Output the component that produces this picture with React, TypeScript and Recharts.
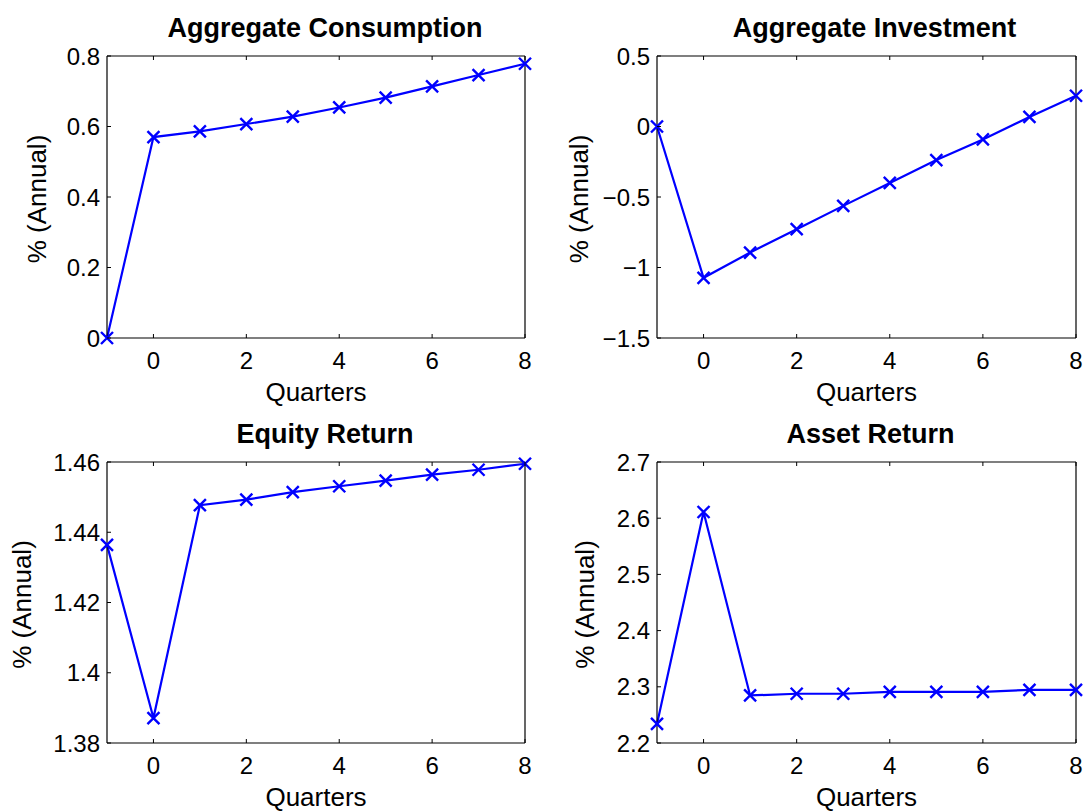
import React from 'react';
import { LineChart, Line, XAxis, YAxis } from 'recharts';

const W = 1084;
const H = 812;
const FONT = '"Liberation Sans", Arial, Helvetica, sans-serif';
const BLUE = '#0000ff';

// ---- data ----
const quarters = [-1, 0, 1, 2, 3, 4, 5, 6, 7, 8];
const consumption = [0, 0.57, 0.586, 0.607, 0.628, 0.654, 0.682, 0.714, 0.746, 0.778];
const investment = [0, -1.073, -0.894, -0.728, -0.563, -0.4, -0.238, -0.092, 0.068, 0.218];
const equityReturn = [1.4364, 1.3871, 1.4477, 1.4493, 1.4514, 1.4531, 1.4547, 1.4564, 1.4578, 1.4595];
const assetReturn = [2.234, 2.611, 2.2846, 2.2876, 2.2876, 2.291, 2.291, 2.291, 2.2947, 2.2947];

const xTicks = [0, 2, 4, 6, 8];
const consumptionTicks = [0, 0.2, 0.4, 0.6, 0.8];
const investmentTicks = [-1.5, -1, -0.5, 0, 0.5];
const equityTicks = [1.38, 1.4, 1.42, 1.44, 1.46];
const assetTicks = [2.2, 2.3, 2.4, 2.5, 2.6, 2.7];

const xLabel = 'Quarters';
const yLabel = '% (Annual)';

// ---- helpers ----
const TICK_LEN = 4;
const AX = 1; // axis band size
const fmt = (v: number) => String(Number(v.toFixed(4))).replace('-', '\u2212');

const BottomTick = (p: any) => (
  <g>
    <line x1={p.x} x2={p.x} y1={p.y} y2={p.y - TICK_LEN} stroke="#000" strokeWidth={1} />
    <text x={p.x} y={p.y + 31} textAnchor="middle" fontSize={24} fontFamily={FONT} fill="#000">
      {fmt(p.payload.value)}
    </text>
  </g>
);
const TopTick = (p: any) => (
  <line x1={p.x} x2={p.x} y1={p.y} y2={p.y + TICK_LEN} stroke="#000" strokeWidth={1} />
);
const LeftTick = (p: any) => (
  <g>
    <line x1={p.x} x2={p.x + TICK_LEN} y1={p.y} y2={p.y} stroke="#000" strokeWidth={1} />
    <text x={p.x - 7} y={p.y + 8.5} textAnchor="end" fontSize={24} fontFamily={FONT} fill="#000">
      {fmt(p.payload.value)}
    </text>
  </g>
);
const RightTick = (p: any) => (
  <line x1={p.x} x2={p.x - TICK_LEN} y1={p.y} y2={p.y} stroke="#000" strokeWidth={1} />
);

const CrossDot = (p: any) => {
  const { cx, cy, index } = p;
  if (cx == null || cy == null) return <g key={index} />;
  const s = 6;
  return (
    <path
      key={index}
      d={`M${cx - s},${cy - s}L${cx + s},${cy + s}M${cx - s},${cy + s}L${cx + s},${cy - s}`}
      stroke={BLUE}
      strokeWidth={2.4}
      fill="none"
    />
  );
};

const TextAt = (p: any) => (
  <text
    x={p.tx}
    y={p.ty}
    textAnchor="middle"
    fontSize={p.size}
    fontWeight={p.bold ? 'bold' : 'normal'}
    fontFamily={FONT}
    fill="#000"
    transform={p.rot ? `rotate(-90, ${p.tx}, ${p.ty})` : undefined}
  >
    {p.text}
  </text>
);

type Box = { left: number; right: number; top: number; bottom: number };

function Panel(props: {
  title: string;
  values: number[];
  yDomain: [number, number];
  yTicks: number[];
  box: Box;
  titleDx: number;
  yLabelX: number;
}) {
  const { title, values, yDomain, yTicks, box, titleDx, yLabelX } = props;
  const data = quarters.map((q, i) => ({ q, v: values[i] }));
  const margin = {
    top: box.top - AX,
    left: box.left - AX,
    right: W - box.right - AX,
    bottom: H - box.bottom - AX,
  };
  const cx = (box.left + box.right) / 2;
  const cy = (box.top + box.bottom) / 2;
  return (
    <div style={{ position: 'absolute', left: 0, top: 0, width: W, height: H }}>
      <LineChart width={W} height={H} data={data} margin={margin}>
        <XAxis
          xAxisId="b"
          dataKey="q"
          type="number"
          orientation="bottom"
          domain={[-1, 8]}
          ticks={xTicks}
          interval={0}
          height={AX}
          tickSize={0}
          tickMargin={0}
          tickLine={false}
          axisLine={{ stroke: '#000', strokeWidth: 1.2 }}
          tick={BottomTick}
          label={<TextAt tx={cx} ty={box.bottom + 63} size={26} text={xLabel} />}
        />
        <XAxis
          xAxisId="t"
          dataKey="q"
          type="number"
          orientation="top"
          domain={[-1, 8]}
          ticks={xTicks}
          interval={0}
          height={AX}
          tickSize={0}
          tickMargin={0}
          tickLine={false}
          axisLine={{ stroke: '#000', strokeWidth: 1.2 }}
          tick={TopTick}
          label={<TextAt tx={cx + titleDx} ty={box.top - 19} size={27} bold text={title} />}
        />
        <YAxis
          yAxisId="l"
          type="number"
          orientation="left"
          domain={yDomain}
          ticks={yTicks}
          interval={0}
          width={AX}
          tickSize={0}
          tickMargin={0}
          tickLine={false}
          axisLine={{ stroke: '#000', strokeWidth: 1.2 }}
          tick={LeftTick}
          label={<TextAt tx={yLabelX} ty={cy + 2} size={26} rot text={yLabel} />}
        />
        <YAxis
          yAxisId="r"
          type="number"
          orientation="right"
          domain={yDomain}
          ticks={yTicks}
          interval={0}
          width={AX}
          tickSize={0}
          tickMargin={0}
          tickLine={false}
          axisLine={{ stroke: '#000', strokeWidth: 1.2 }}
          tick={RightTick}
        />
        <Line
          xAxisId="b"
          yAxisId="l"
          type="linear"
          dataKey="v"
          stroke={BLUE}
          strokeWidth={2.2}
          dot={CrossDot}
          activeDot={false}
          isAnimationActive={false}
        />
      </LineChart>
    </div>
  );
}

export default function App() {
  return (
    <div style={{ position: 'absolute', left: 0, top: 0, width: W, height: H, background: '#fff' }}>
      <Panel
        title="Aggregate Consumption"
        values={consumption}
        yDomain={[0, 0.8]}
        yTicks={consumptionTicks}
        box={{ left: 107, right: 525, top: 56, bottom: 338 }}
        titleDx={9}
        yLabelX={46}
      />
      <Panel
        title="Aggregate Investment"
        values={investment}
        yDomain={[-1.5, 0.5]}
        yTicks={investmentTicks}
        box={{ left: 657, right: 1076, top: 56, bottom: 338 }}
        titleDx={8}
        yLabelX={588}
      />
      <Panel
        title="Equity Return"
        values={equityReturn}
        yDomain={[1.38, 1.46]}
        yTicks={equityTicks}
        box={{ left: 107, right: 525, top: 462, bottom: 743 }}
        titleDx={9}
        yLabelX={31}
      />
      <Panel
        title="Asset Return"
        values={assetReturn}
        yDomain={[2.2, 2.7]}
        yTicks={assetTicks}
        box={{ left: 657, right: 1076, top: 462, bottom: 743 }}
        titleDx={4}
        yLabelX={594}
      />
    </div>
  );
}
